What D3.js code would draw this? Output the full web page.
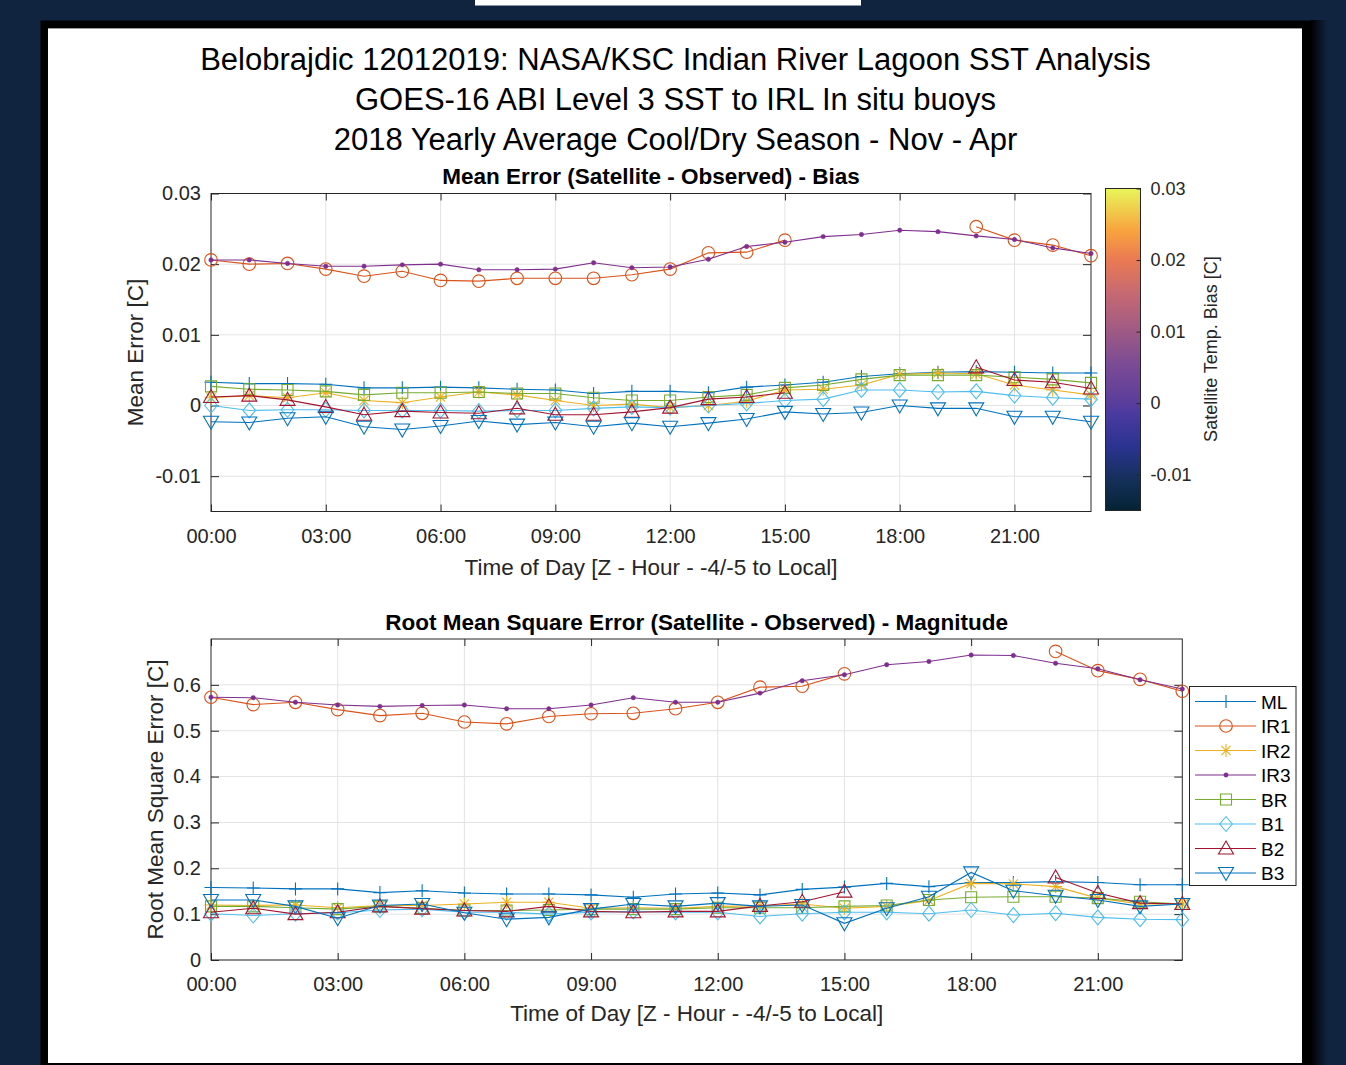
<!DOCTYPE html>
<html><head><meta charset="utf-8">
<script src="https://cdn.jsdelivr.net/npm/d3@7"></script>
<style>
html,body{margin:0;padding:0;background:#10233f;}
svg{display:block;}
text{font-family:"Liberation Sans",Arial,Helvetica,sans-serif;}
</style></head><body>
<svg id="chart" width="1346" height="1065"></svg>
<script>
// ---------------- DATA ----------------
const hours = [0,1,2,3,4,5,6,7,8,9,10,11,12,13,14,15,16,17,18,19,20,21,22,23];
const seriesNames = ["ML","IR1","IR2","IR3","BR","B1","B2","B3"];
const seriesColors = ["#0072BD","#D95319","#EDB120","#7E2F8E","#77AC30","#4DBEEE","#A2142F","#0072BD"];
const seriesMarkers = ["plus","circle","asterisk","dot","square","diamond","triUp","triDown"];

// Mean error (bias) [C]
const ML_bias  = [0.0033,0.0031,0.0031,0.0030,0.0025,0.0025,0.0026,0.0025,0.0023,0.0022,0.0017,0.0020,0.0020,0.0018,0.0026,0.0029,0.0033,0.0041,0.0045,0.0047,0.0048,0.0047,0.0046,0.0046];
const IR1_bias = [0.0206,0.0200,0.0201,0.0193,0.0183,0.0190,0.0177,0.0176,0.0180,0.0180,0.0180,0.0185,0.0193,0.0216,0.0217,0.0234,null,null,null,null,0.0253,0.0234,0.0227,0.0212];
const IR2_bias = [0.0011,0.0014,0.0011,0.0018,0.0007,0.0004,0.0012,0.0019,0.0015,0.0007,0.0000,0.0002,-0.0003,0.0000,0.0006,0.0022,0.0023,0.0029,0.0044,0.0046,0.0045,0.0029,0.0022,0.0015];
const IR3_bias = [0.0206,0.0206,0.0201,0.0197,0.0197,0.0199,0.0200,0.0192,0.0192,0.0193,0.0202,0.0195,0.0196,0.0207,0.0225,0.0231,0.0239,0.0242,0.0248,0.0246,0.0240,0.0235,0.0223,0.0215];
const BR_bias  = [0.0027,0.0023,0.0022,0.0020,0.0015,0.0018,0.0018,0.0019,0.0017,0.0017,0.0011,0.0007,0.0007,0.0012,0.0015,0.0025,0.0029,0.0037,0.0043,0.0043,0.0043,0.0040,0.0037,0.0032];
const B1_bias  = [0.0000,-0.0007,-0.0006,-0.0006,-0.0007,-0.0007,-0.0007,-0.0008,-0.0007,-0.0007,-0.0004,-0.0002,-0.0003,0.0000,0.0003,0.0007,0.0009,0.0022,0.0022,0.0019,0.0020,0.0014,0.0011,0.0009];
const B2_bias  = [0.0012,0.0014,0.0008,-0.0002,-0.0013,-0.0008,-0.0010,-0.0011,-0.0004,-0.0013,-0.0013,-0.0009,-0.0003,0.0009,0.0012,0.0018,null,null,null,null,0.0054,0.0036,0.0033,0.0024];
const B3_bias  = [-0.0023,-0.0024,-0.0018,-0.0016,-0.0030,-0.0034,-0.0029,-0.0022,-0.0027,-0.0024,-0.0030,-0.0025,-0.0030,-0.0025,-0.0019,-0.0009,-0.0012,-0.0010,0.0000,-0.0004,-0.0004,-0.0016,-0.0016,-0.0023];

// Root mean square error [C]
const ML_rmse  = [0.158,0.157,0.155,0.155,0.147,0.151,0.146,0.144,0.144,0.142,0.137,0.144,0.146,0.142,0.154,0.159,0.167,0.160,0.169,0.169,0.171,0.169,0.164,0.164];
const IR1_rmse = [0.573,0.557,0.562,0.546,0.533,0.538,0.519,0.515,0.531,0.537,0.538,0.548,0.562,0.595,0.597,0.624,null,null,null,null,0.673,0.631,0.612,0.586];
const IR2_rmse = [0.120,0.119,0.120,0.114,0.119,0.119,0.122,0.126,0.126,0.113,0.114,0.113,0.117,0.118,0.122,0.113,0.117,0.130,0.167,0.166,0.160,0.135,0.122,0.122];
const IR3_rmse = [0.573,0.572,0.562,0.556,0.553,0.555,0.556,0.548,0.548,0.556,0.572,0.562,0.562,0.582,0.609,0.622,0.644,0.651,0.665,0.664,0.647,0.635,0.611,0.591];
const BR_rmse  = [0.117,0.117,0.114,0.111,0.117,0.113,0.108,0.108,0.109,0.111,0.111,0.111,0.114,0.114,0.114,0.117,0.119,0.131,0.137,0.138,0.138,0.135,0.127,0.122];
const B1_rmse  = [0.101,0.097,0.101,0.103,0.109,0.111,0.104,0.104,0.100,0.104,0.106,0.104,0.104,0.095,0.101,0.104,0.104,0.101,0.109,0.098,0.102,0.093,0.089,0.088];
const B2_rmse  = [0.104,0.113,0.100,0.104,0.117,0.112,0.108,0.106,0.117,0.106,0.104,0.106,0.106,0.118,0.127,0.149,null,null,null,null,0.180,0.146,0.124,0.122];
const B3_rmse  = [0.131,0.131,0.117,0.091,0.119,0.122,0.103,0.089,0.093,0.111,0.122,0.117,0.124,0.117,0.120,0.080,0.113,0.138,0.191,0.151,0.140,0.131,0.117,0.122];

const xTickValues = [0,3,6,9,12,15,18,21];
const xTickLabels = ["00:00","03:00","06:00","09:00","12:00","15:00","18:00","21:00"];
const biasTickValues = [-0.01,0,0.01,0.02,0.03];
const biasTickLabels = ["-0.01","0","0.01","0.02","0.03"];
const rmseTickValues = [0,0.1,0.2,0.3,0.4,0.5,0.6];
const rmseTickLabels = ["0","0.1","0.2","0.3","0.4","0.5","0.6"];
const cbarTickValues = [-0.01,0,0.01,0.02,0.03];
const cbarTickLabels = ["-0.01","0","0.01","0.02","0.03"];
const cbarStops = ["#042333","#14305a","#2b3390","#4a3aa0","#5a3d9c","#7d4c94","#a05a84","#c46873","#ea7a52","#f8a43e","#e8f65a"];
const cbarStopOffsets = [0,0.094,0.2,0.3,0.333,0.46,0.56,0.67,0.78,0.87,1];

const titleLines = ["Belobrajdic 12012019: NASA/KSC Indian River Lagoon SST Analysis",
                    "GOES-16 ABI Level 3 SST to IRL In situ buoys",
                    "2018 Yearly Average Cool/Dry Season - Nov - Apr"];
const biasSeries = [ML_bias,IR1_bias,IR2_bias,IR3_bias,BR_bias,B1_bias,B2_bias,B3_bias];
const rmseSeries = [ML_rmse,IR1_rmse,IR2_rmse,IR3_rmse,BR_rmse,B1_rmse,B2_rmse,B3_rmse];

// ---------------- DRAW ----------------
const svg = d3.select("#chart");
const defs = svg.append("defs");
const AX = "#262626";

// frame
svg.append("rect").attr("width",1346).attr("height",1065).attr("fill","#10233f");
svg.append("rect").attr("x",475).attr("y",0).attr("width",386).attr("height",5).attr("fill","#ffffff");
svg.append("rect").attr("x",475).attr("y",5).attr("width",386).attr("height",1).attr("fill","#8894a6");
const sh = defs.append("linearGradient").attr("id","shadow").attr("x1","0").attr("x2","1");
sh.append("stop").attr("offset","0").attr("stop-color","#000");
sh.append("stop").attr("offset","1").attr("stop-color","#10233f");
svg.append("rect").attr("x",1311).attr("y",20).attr("width",16).attr("height",1045).attr("fill","url(#shadow)");
svg.append("rect").attr("x",40.5).attr("y",20.5).attr("width",1271).attr("height",1060).attr("fill","#000");
svg.append("rect").attr("x",48).attr("y",28).attr("width",1254).attr("height",1035).attr("fill","#fff");
svg.append("rect").attr("x",48).attr("y",28).attr("width",1254).attr("height",1).attr("fill","#9a9a9a");

// title
titleLines.forEach((t,i)=>{
  svg.append("text").attr("x",675.5).attr("y",70+i*40).attr("text-anchor","middle")
    .attr("font-size",31).attr("fill","#000").text(t);
});

function markerPath(type){
  switch(type){
    case "plus": return "M-6.5,0H6.5M0,-6.5V6.5";
    case "circle": return "M6.3,0A6.3,6.3 0 1,1 -6.3,0A6.3,6.3 0 1,1 6.3,0Z";
    case "asterisk": return "M-6.5,0H6.5M0,-6.5V6.5M-4.6,-4.6L4.6,4.6M-4.6,4.6L4.6,-4.6";
    case "dot": return "M2.2,0A2.2,2.2 0 1,1 -2.2,0A2.2,2.2 0 1,1 2.2,0Z";
    case "square": return "M-5.5,-5.5H5.5V5.5H-5.5Z";
    case "diamond": return "M0,-7.5L6.3,0L0,7.5L-6.3,0Z";
    case "triUp": return "M0,-7.5L7.5,5.5L-7.5,5.5Z";
    case "triDown": return "M0,7.5L7.5,-5.5L-7.5,-5.5Z";
  }
}

function drawPanel(opt){
  const {x0,x1,y0,y1,yDomain,yTicks,yLabels,series,title,ylabel,titleY,xlabY,ylabX,clipId} = opt;
  const x = d3.scaleLinear().domain([0,23]).range([x0,x1]);
  const y = d3.scaleLinear().domain(yDomain).range([y1,y0]);
  const g = svg.append("g");
  // grid
  g.append("g").selectAll("line").data(xTickValues.filter(v=>v>0)).join("line")
    .attr("x1",d=>x(d)).attr("x2",d=>x(d)).attr("y1",y0).attr("y2",y1)
    .attr("stroke","#e3e3e3").attr("stroke-width",1);
  g.append("g").selectAll("line").data(yTicks).join("line")
    .attr("x1",x0).attr("x2",x1).attr("y1",d=>y(d)).attr("y2",d=>y(d))
    .attr("stroke","#e3e3e3").attr("stroke-width",1);
  // axes
  const ax = (sel)=>{sel.select(".domain").remove(); sel.selectAll(".tick line").attr("stroke",AX);};
  g.append("g").attr("transform",`translate(0,${y1})`)
    .call(d3.axisBottom(x).tickValues(xTickValues).tickFormat((d,i)=>xTickLabels[i]).tickSize(-7).tickPadding(17))
    .call(ax).selectAll("text").attr("font-size",20).attr("fill",AX).attr("font-family","Liberation Sans, Arial, sans-serif");
  g.append("g").attr("transform",`translate(0,${y0})`)
    .call(d3.axisTop(x).tickValues(xTickValues).tickFormat("").tickSize(-7)).call(ax);
  g.append("g").attr("transform",`translate(${x0},0)`)
    .call(d3.axisLeft(y).tickValues(yTicks).tickFormat((d,i)=>yLabels[i]).tickSize(-8).tickPadding(10))
    .call(ax).selectAll("text").attr("font-size",20).attr("fill",AX).attr("font-family","Liberation Sans, Arial, sans-serif");
  g.append("g").attr("transform",`translate(${x1},0)`)
    .call(d3.axisRight(y).tickValues(yTicks).tickFormat("").tickSize(-8)).call(ax);
  g.append("rect").attr("x",x0).attr("y",y0).attr("width",x1-x0).attr("height",y1-y0)
    .attr("fill","none").attr("stroke",AX).attr("stroke-width",1);
  // series
  const line = d3.line().defined(d=>d[1]!==null).x(d=>x(d[0])).y(d=>y(d[1]));
  series.forEach((vals,si)=>{
    const pts = hours.map((h,i)=>[h,vals[i]]);
    const col = seriesColors[si];
    const sg = g.append("g");
    sg.append("path").attr("d",line(pts)).attr("fill","none").attr("stroke",col).attr("stroke-width",1.1);
    const isDot = seriesMarkers[si]==="dot";
    sg.selectAll("path.m").data(pts.filter(d=>d[1]!==null)).join("path").attr("class","m")
      .attr("transform",d=>`translate(${x(d[0])},${y(d[1])})`)
      .attr("d",markerPath(seriesMarkers[si]))
      .attr("fill",isDot?col:"none").attr("stroke",col).attr("stroke-width",isDot?0.5:1.1);
  });
  // labels
  svg.append("text").attr("x",(x0+x1)/2).attr("y",titleY).attr("text-anchor","middle")
    .attr("font-size",22.5).attr("font-weight","bold").attr("fill","#000").text(title);
  svg.append("text").attr("x",(x0+x1)/2).attr("y",xlabY).attr("text-anchor","middle")
    .attr("font-size",22.5).attr("fill",AX).text("Time of Day [Z - Hour - -4/-5 to Local]");
  svg.append("text").attr("transform",`translate(${ylabX},${(y0+y1)/2}) rotate(-90)`).attr("text-anchor","middle")
    .attr("font-size",22.5).attr("fill",AX).text(ylabel);
  return {x,y};
}

drawPanel({x0:211,x1:1091,y0:193.5,y1:511.5,yDomain:[-0.015,0.03],yTicks:biasTickValues,yLabels:biasTickLabels,
  series:biasSeries,title:"Mean Error (Satellite - Observed) - Bias",ylabel:"Mean Error [C]",titleY:184,xlabY:575,ylabX:143});
drawPanel({x0:211,x1:1182.3,y0:639,y1:960,yDomain:[0,0.7],yTicks:rmseTickValues,yLabels:rmseTickLabels,
  series:rmseSeries,title:"Root Mean Square Error (Satellite - Observed) - Magnitude",ylabel:"Root Mean Square Error [C]",titleY:630,xlabY:1021,ylabX:163});

// colorbar
const cb = {x:1105.5,y0:188.5,y1:510.5,w:35};
const cg = defs.append("linearGradient").attr("id","cbar").attr("x1","0").attr("x2","0").attr("y1","1").attr("y2","0");
cbarStops.forEach((c,i)=>cg.append("stop").attr("offset",cbarStopOffsets[i]).attr("stop-color",c));
svg.append("rect").attr("x",cb.x).attr("y",cb.y0).attr("width",cb.w).attr("height",cb.y1-cb.y0)
  .attr("fill","url(#cbar)").attr("stroke",AX).attr("stroke-width",1);
const cy = d3.scaleLinear().domain([-0.015,0.03]).range([cb.y1,cb.y0]);
const cax = svg.append("g").attr("transform",`translate(${cb.x+cb.w},0)`)
  .call(d3.axisRight(cy).tickValues(cbarTickValues).tickFormat((d,i)=>cbarTickLabels[i]).tickSize(-4).tickPadding(10));
cax.select(".domain").remove();
cax.selectAll(".tick line").attr("stroke",AX);
cax.selectAll("text").attr("font-size",18).attr("fill",AX).attr("font-family","Liberation Sans, Arial, sans-serif");
svg.append("text").attr("transform",`translate(1217,349) rotate(-90)`).attr("text-anchor","middle")
  .attr("font-size",18).attr("fill",AX).text("Satellite Temp. Bias [C]");

// legend
const lg = svg.append("g");
lg.append("rect").attr("x",1189.5).attr("y",686.5).attr("width",106.5).attr("height",199)
  .attr("fill","#fff").attr("stroke",AX).attr("stroke-width",1);
seriesNames.forEach((n,i)=>{
  const yy = 701.5 + i*24.5;
  const col = seriesColors[i];
  lg.append("line").attr("x1",1195).attr("x2",1256).attr("y1",yy).attr("y2",yy).attr("stroke",col).attr("stroke-width",1.1);
  const isDot = seriesMarkers[i]==="dot";
  lg.append("path").attr("transform",`translate(1226,${yy})`).attr("d",markerPath(seriesMarkers[i]))
    .attr("fill",isDot?col:"none").attr("stroke",col).attr("stroke-width",isDot?0.5:1.1);
  lg.append("text").attr("x",1261).attr("y",yy+7).attr("font-size",19).attr("fill","#000").text(n);
});
</script>
</body></html>
